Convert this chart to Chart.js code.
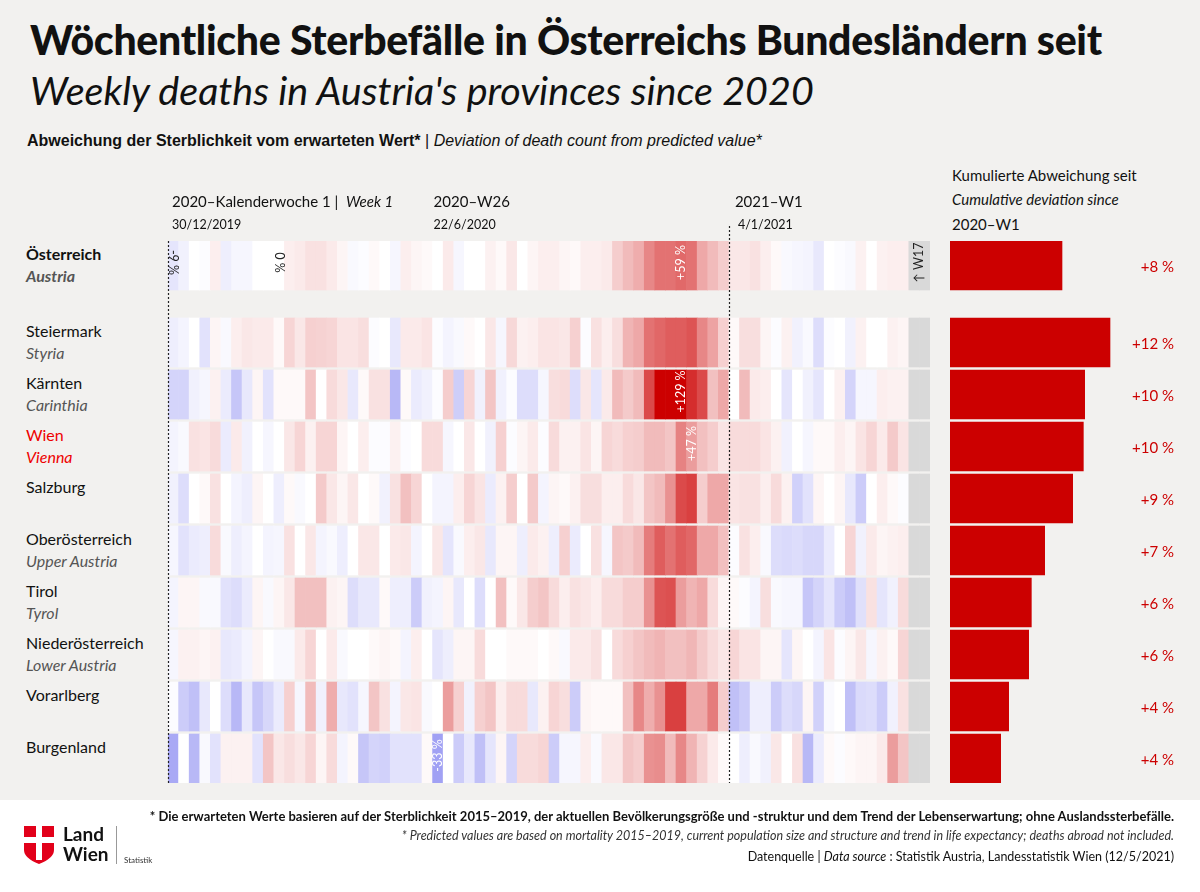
<!DOCTYPE html>
<html><head><meta charset="utf-8">
<script src="https://cdn.jsdelivr.net/npm/chart.js@4"></script>
<style>
body{margin:0;width:1200px;height:892px;background:#f2f1ef;font-family:Lato,sans-serif;position:relative;overflow:hidden}
.a{position:absolute;white-space:nowrap}
canvas{position:absolute;left:0;top:0}
#foot{position:absolute;left:0;top:800px;width:1200px;height:92px;background:#fff}
.rl{font-size:16px;color:#111}
.rt{font-size:16px;color:#555;font-style:italic}
</style></head><body>
<div id="foot"></div>
<div class="a" style="left:30px;top:15px;font-size:41px;font-weight:900;color:#111;letter-spacing:-0.3px">Wöchentliche Sterbefälle in Österreichs Bundesländern seit</div>
<div class="a" style="left:30px;top:66px;font-size:39.5px;font-style:italic;color:#111">Weekly deaths in Austria's provinces since 2020</div>
<div class="a" style="left:27px;top:132px;font-size:16px;font-family:'Liberation Sans Narrow',sans-serif;color:#111"><b>Abweichung der Sterblichkeit vom erwarteten Wert*</b> | <i>Deviation of death count from predicted value*</i></div>
<div class="a" style="left:952px;top:166px;font-size:15px;color:#111">Kumulierte Abweichung seit</div>
<div class="a" style="left:952px;top:190px;font-size:15px;font-style:italic;color:#111">Cumulative deviation since</div>
<div class="a" style="left:952px;top:215px;font-size:15px;color:#111">2020–W1</div>
<div id="labels"></div>
<canvas id="hm" width="1200" height="892"></canvas>
<canvas id="cu" width="1200" height="892"></canvas>
<div class="a" style="right:26px;top:808px;font-size:13px;font-weight:700;color:#111">* Die erwarteten Werte basieren auf der Sterblichkeit 2015–2019, der aktuellen Bevölkerungsgröße und -struktur und dem Trend der Lebenserwartung; ohne Auslandssterbefälle.</div>
<div class="a" style="right:26px;top:828px;font-size:12.5px;font-style:italic;color:#333">* Predicted values are based on mortality 2015–2019, current population size and structure and trend in life expectancy; deaths abroad not included.</div>
<div class="a" style="right:26px;top:849px;font-size:12.5px;color:#111">Datenquelle | <i>Data source</i> : Statistik Austria, Landesstatistik Wien (12/5/2021)</div>
<svg class="a" style="left:24px;top:826px" width="30" height="38" viewBox="0 0 30 38"><path d="M0 0H30V24Q30 32 15 38Q0 32 0 24Z" fill="#e2001a"/><rect x="12" y="0" width="6" height="34" fill="#fff"/><rect x="0" y="11" width="30" height="6" fill="#fff"/></svg>
<div class="a" style="left:63px;top:824px;font-size:19px;font-weight:700;color:#111;line-height:20px">Land<br>Wien</div>
<div class="a" style="left:116px;top:826px;width:1px;height:38px;background:#999"></div>
<div class="a" style="left:124px;top:855px;font-size:8px;color:#333">Statistik</div>
<script>
const regionsDe=["Österreich","Steiermark","Kärnten","Wien","Salzburg","Oberösterreich","Tirol","Niederösterreich","Vorarlberg","Burgenland"];
const regionsEn=["Austria","Styria","Carinthia","Vienna","","Upper Austria","Tyrol","Lower Austria","",""];
const weeks2020=53, weeks2021=17, greyWeeks=2;
const oesterreich=[-9,-5,0,-1,4,-6,-3,-3,0,0,0,4,5,8,8,5,2,-2,-1,1,0,-3,4,2,1,0,5,-3,0,0,3,1,6,0,2,4,4,2,1,4,4,5,15,22,28,45,55,55,59,55,30,22,15,6,6,8,4,1,-2,-3,-4,-8,0,-1,-2,3,0,3,4,4];
const steiermark=[-6,-4,0,-10,2,-2,4,6,5,5,1,12,6,14,13,12,7,7,9,-1,0,-8,5,5,7,-1,-4,-2,1,0,6,-3,11,3,4,7,7,6,14,-1,8,4,9,25,30,55,60,65,65,70,45,32,14,1,9,9,2,-1,3,-5,-2,-12,-1,0,-5,3,0,0,3,2];
const kaernten=[-15,-15,-5,-3,3,-7,-20,-8,2,-10,1,1,1,18,0,10,6,-8,1,8,8,-25,1,-7,-5,-1,15,-17,12,-5,18,-5,-1,-12,-12,-3,9,10,-12,6,-9,5,22,16,22,75,115,120,129,90,75,20,30,0,22,5,4,0,-9,0,-5,-9,0,3,-15,-3,-3,4,3,3];
const wien=[-4,-2,8,7,10,-7,5,-5,0,-3,0,6,12,3,12,12,2,0,4,-1,-1,3,-1,0,10,10,-3,0,6,0,-5,14,-1,2,5,-1,10,3,3,7,2,12,10,14,15,22,22,18,47,35,20,15,7,10,10,10,7,3,-5,0,-3,1,1,4,2,7,12,5,16,7];
const salzburg=[-5,-12,0,1,8,0,-4,-6,2,0,-6,1,-2,0,16,6,2,6,0,1,-5,8,20,12,0,-4,-4,4,12,7,-7,3,15,0,16,-4,2,1,3,9,9,4,4,10,6,18,22,40,75,80,15,30,30,7,8,8,4,10,3,-16,-10,2,0,2,-8,-18,0,4,1,-1];
const oberoesterreich=[-3,-10,-7,-6,10,-2,-6,-4,0,-4,-3,8,0,6,-4,-2,-6,0,6,6,0,5,6,-4,0,6,-9,-2,4,6,-8,2,2,-6,5,3,-6,14,-7,0,8,-3,18,16,22,50,65,55,65,60,30,30,20,-1,8,4,-2,-12,-13,-12,-14,-14,-7,0,12,-5,5,2,3,4];
const tirol=[-4,2,2,-2,-2,-10,-12,-7,2,-2,2,6,20,20,20,3,2,-12,-8,-8,1,-6,-6,-18,-5,-4,2,-8,0,-12,0,20,1,6,15,18,10,4,8,6,4,10,10,15,15,40,70,72,35,25,30,10,2,1,-1,-4,9,-2,-3,-3,-20,-15,-9,-18,-22,-11,8,-9,-5,10];
const niederoesterreich=[-3,3,3,2,3,-8,-7,-4,2,0,-2,-2,5,12,0,5,-2,0,0,1,2,1,-4,4,0,-9,-6,2,2,10,0,0,1,1,1,0,1,-2,5,5,8,0,10,14,18,22,25,20,20,24,16,10,6,12,7,7,2,2,-9,2,0,-4,7,-1,2,6,-3,3,1,12];
const vorarlberg=[-1,-18,-22,-8,0,-12,-25,-8,-20,-14,-7,14,-3,22,-5,28,-8,-10,-3,18,8,-4,6,7,-2,0,35,14,-5,14,18,4,10,10,-8,3,12,9,-18,2,1,1,1,20,45,28,40,80,80,30,30,50,15,-22,-18,-6,-6,-18,-12,-14,2,-16,-2,0,-22,-13,-12,-18,-5,8];
const burgenland=[-30,0,-25,-2,-10,3,3,3,-10,18,6,9,6,12,2,10,-4,1,-20,-15,-16,-10,-10,-10,1,-33,0,-18,-8,-22,-9,2,-15,10,10,12,-18,-3,-3,4,-2,6,6,18,15,40,42,22,45,25,13,5,1,0,-6,-2,-5,6,0,8,-25,-7,1,-1,1,2,2,5,35,18];
const cumulative=[8.4,12.0,10.1,10.0,9.2,7.1,6.1,5.9,4.4,3.8];
const cumLabels=["+8 %","+12 %","+10 %","+10 %","+9 %","+7 %","+6 %","+6 %","+4 %","+4 %"];
const series=[oesterreich,steiermark,kaernten,wien,salzburg,oberoesterreich,tirol,niederoesterreich,vorarlberg,burgenland];
const weekLabels=[];
for(let w=1;w<=weeks2020;w++)weekLabels.push("2020-W"+w);
for(let w=1;w<=weeks2021+greyWeeks;w++)weekLabels.push("2021-W"+w);

const rowTop=k=>k===0?241:318+52*(k-1);
const rowH=49;
function col(v){
  if(v>=0){const t=Math.pow(Math.min(v/115,1),0.8);return `rgb(${Math.round(255-t*51)},${Math.round(255-t*255)},${Math.round(255-t*255)})`;}
  const t=Math.min(-v/35,1);return `rgb(${Math.round(255-t*100)},${Math.round(255-t*100)},${Math.round(255-t*12)})`;
}
let html="";
regionsDe.forEach((n,k)=>{
  const t=rowTop(k);const red=k===3?"color:#e00;":"";
  const b=k===0?"font-weight:700;":"";
  html+=`<div class="a rl" style="left:26px;top:${t+3}px;${b}${red}">${n}</div>`;
  if(regionsEn[k])html+=`<div class="a rt" style="left:26px;top:${t+25}px;${k===0?'font-weight:700;':''}${red}">${regionsEn[k]}</div>`;
});
document.getElementById("labels").innerHTML=html;

const datasets=series.map((vals,k)=>{
  const t=rowTop(k);
  return {data:weekLabels.map((l,i)=>({x:l,y:[t,t+rowH]})),
    backgroundColor:weekLabels.map((l,i)=>i<vals.length?col(vals[i]):"#d9d9d9"),
    borderWidth:0,grouped:false,barPercentage:1,categoryPercentage:1};
});
const cellText=[[0,0,"-9 %",1],[0,10,"0 %",1],[0,48,"+59 %",-1],[2,48,"+129 %",-1],[3,49,"+47 %",-1],[9,25,"-33 %",-1],[0,70.5,"↑ W17",-1]];
const deco={id:"deco",afterDatasetsDraw(c){
  const ctx=c.ctx,x=c.scales.x;
  const half=(x.getPixelForValue(1)-x.getPixelForValue(0))/2;
  const edge=i=>x.getPixelForValue(0)-half+2*half*i;
  ctx.save();
  ctx.strokeStyle="#222";ctx.lineWidth=1.2;ctx.setLineDash([2,2]);
  [[0,241],[53,226]].forEach(([i,top])=>{const px=Math.round(edge(i))+0.5;ctx.beginPath();ctx.moveTo(px,top);ctx.lineTo(px,783);ctx.stroke();});
  ctx.setLineDash([]);
  ctx.fillStyle="#111";ctx.textBaseline="alphabetic";
  ctx.font="15px Lato";ctx.fillText("2020–Kalenderwoche 1 |",edge(0)+4,207);
  ctx.font="italic 15px Lato";ctx.fillText("Week 1",edge(0)+178,207);
  ctx.font="15px Lato";ctx.fillText("2020–W26",edge(25)+1,207);ctx.fillText("2021–W1",edge(53)+6,207);
  ctx.font="12.5px Lato";ctx.fillText("30/12/2019",edge(0)+4,229);ctx.fillText("22/6/2020",edge(25)+1,229);ctx.fillText("4/1/2021",edge(53)+9,229);
  cellText.forEach(([k,i,s,dir])=>{
    const cx=edge(i)+half,cy=rowTop(k)+rowH/2-3;
    ctx.save();ctx.translate(cx,cy);ctx.rotate(dir*Math.PI/2);
    ctx.font="12.5px Lato";ctx.textAlign="center";ctx.textBaseline="middle";
    ctx.fillStyle=(dir===1||i>=70)?"#222":"#fff";ctx.fillText(s,0,0);ctx.restore();
  });
  ctx.restore();
}};
new Chart(document.getElementById("hm"),{type:"bar",data:{labels:weekLabels,datasets},
  options:{responsive:false,animation:false,events:[],layout:{padding:{left:168,right:270,top:241,bottom:109}},
    plugins:{legend:{display:false},tooltip:{enabled:false}},
    scales:{x:{display:false},y:{type:"linear",display:false,min:241,max:783,reverse:true}}},plugins:[deco]});

const cumLab={id:"cumLab",afterDatasetsDraw(c){
  const ctx=c.ctx;ctx.save();ctx.fillStyle="#c00";ctx.font="15px Lato";ctx.textAlign="right";ctx.textBaseline="middle";
  cumLabels.forEach((s,k)=>ctx.fillText(s,1174,rowTop(k)+rowH/2+2));ctx.restore();
}};
new Chart(document.getElementById("cu"),{type:"bar",
  data:{datasets:[{data:cumulative.map((v,k)=>({x:v,y:rowTop(k)+rowH/2})),backgroundColor:"#cc0000",borderWidth:0,barThickness:rowH}]},
  options:{indexAxis:"y",responsive:false,animation:false,events:[],layout:{padding:{left:950,right:20,top:241,bottom:109}},
    plugins:{legend:{display:false},tooltip:{enabled:false}},
    scales:{x:{type:"linear",display:false,min:0,max:17.25},y:{type:"linear",display:false,offset:false,min:241,max:783,reverse:true}}},plugins:[cumLab]});
</script></body></html>
